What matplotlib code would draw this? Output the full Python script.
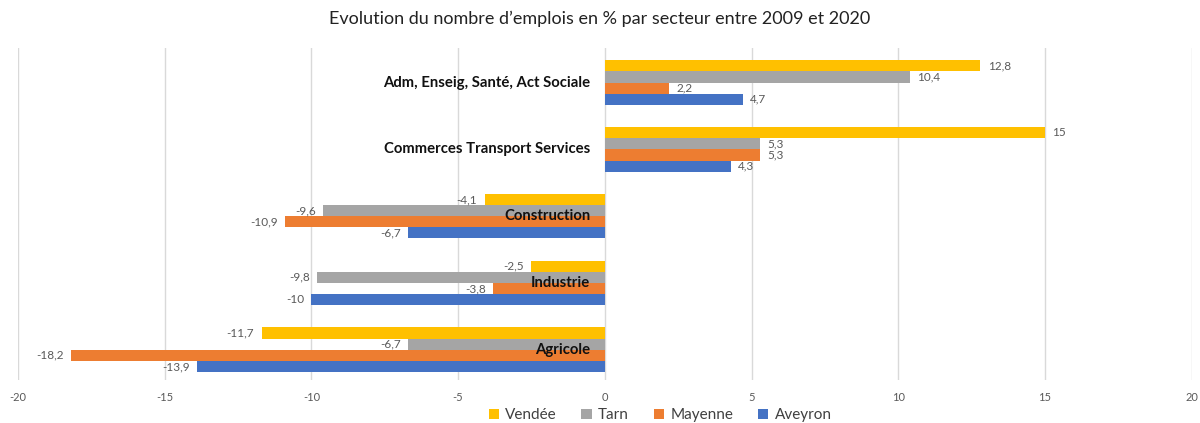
import numpy as np
import matplotlib.pyplot as plt

# Data
SECTEURS = ['Adm, Enseig, Santé, Act Sociale', 'Commerces Transport Services',
            'Construction', 'Industrie', 'Agricole']
DEPTS = ['Vendée', 'Tarn', 'Mayenne', 'Aveyron']
VENDEE = [12.8, 15, -4.1, -2.5, -11.7]
TARN = [10.4, 5.3, -9.6, -9.8, -6.7]
MAYENNE = [2.2, 5.3, -10.9, -3.8, -18.2]
AVEYRON = [4.7, 4.3, -6.7, -10, -13.9]
X_TICKS = [-20, -15, -10, -5, 0, 5, 10, 15, 20]

COLORS = ['#FFC000', '#A5A5A5', '#ED7D31', '#4472C4']
plt.rcParams['font.family'] = ['Lato', 'DejaVu Sans']

fig = plt.figure(figsize=(12, 4.23), dpi=100)
ax = fig.add_axes([0.015, 0.102, 0.978, 0.785])

series = [VENDEE, TARN, MAYENNE, AVEYRON]
y = np.arange(len(SECTEURS))
h = 0.167
for k, (name, vals, col) in enumerate(zip(DEPTS, series, COLORS)):
    pos = y - 1.5 * h + k * h
    ax.barh(pos, vals, height=h, color=col, label=name, zorder=2)
    for yy, v in zip(pos, vals):
        txt = f'{v:g}'.replace('.', ',')
        off = 0.25 if v > 0 else -0.25
        ax.text(v + off, yy, txt, ha='left' if v > 0 else 'right', va='center',
                fontsize=8.5, color='#595959', zorder=4)

# category labels sit just left of the zero line, as in Excel
for i, s in enumerate(SECTEURS):
    ax.text(-0.5, i, s, ha='right', va='center', fontsize=10.7,
            fontweight='bold', color='#111111', zorder=5)

ax.set_xlim(-20, 20)
ax.set_ylim(4.45, -0.52)
ax.set_xticks(X_TICKS)
ax.set_xticklabels([str(t) for t in X_TICKS], fontsize=8, color='#595959')
ax.tick_params(axis='x', length=0, pad=9)
ax.set_yticks([])
ax.grid(axis='x', color='#D9D9D9', linewidth=1, zorder=0)
for sp in ax.spines.values():
    sp.set_visible(False)

fig.suptitle("Evolution du nombre d\u2019emplois en % par secteur entre 2009 et 2020",
             x=0.5, y=0.975, fontsize=13, color='#222222')
fig.legend(loc='center', bbox_to_anchor=(0.55, 0.018), ncol=4, frameon=False,
           fontsize=11, handlelength=0.7, handleheight=0.7, handletextpad=0.4,
           columnspacing=1.6, labelcolor='#404040')

fig.savefig('out.png', dpi=100)
